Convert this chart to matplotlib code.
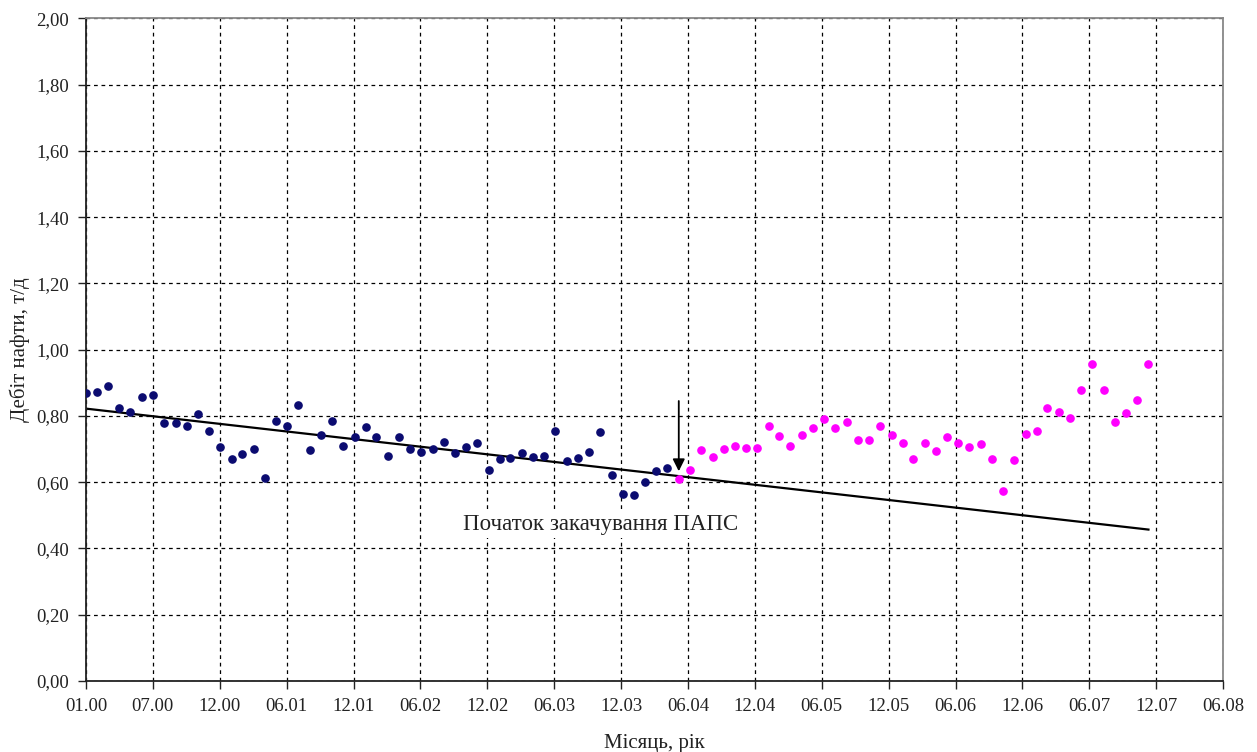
import numpy as np
import pandas as pd
import matplotlib
matplotlib.use('Agg')
import matplotlib.pyplot as plt

plt.rcParams['font.family'] = ['Liberation Serif', 'DejaVu Serif']

# Дебіт нафти до закачування (01.2000 - 05.2004)
debit_before = [0.868, 0.873, 0.890, 0.824, 0.813, 0.857, 0.863, 0.778, 0.780, 0.769,
                0.806, 0.753, 0.706, 0.669, 0.685, 0.700, 0.613, 0.784, 0.771, 0.833,
                0.697, 0.741, 0.785, 0.709, 0.735, 0.766, 0.735, 0.679, 0.735, 0.700,
                0.692, 0.701, 0.721, 0.688, 0.705, 0.719, 0.636, 0.671, 0.674, 0.689,
                0.677, 0.678, 0.753, 0.664, 0.673, 0.691, 0.750, 0.622, 0.563, 0.561,
                0.602, 0.634, 0.644]

# Дебіт нафти після початку закачування ПАПС (06.2004 - 12.2007)
debit_after = [0.611, 0.636, 0.697, 0.675, 0.700, 0.710, 0.703, 0.703, 0.770, 0.740,
               0.710, 0.741, 0.763, 0.791, 0.763, 0.782, 0.728, 0.728, 0.769, 0.742,
               0.718, 0.669, 0.717, 0.693, 0.736, 0.717, 0.707, 0.715, 0.671, 0.572,
               0.667, 0.746, 0.753, 0.824, 0.813, 0.795, 0.877, 0.958, 0.877, 0.783,
               0.808, 0.847, 0.958]

# Лінія тренду (значення на початку і в кінці періоду)
trend_values = [0.822, 0.457]

# Підписи осі X (крок 182 дні, як в Excel)
x_labels = ['01.00', '07.00', '12.00', '06.01', '12.01', '06.02', '12.02', '06.03', '12.03',
            '06.04', '12.04', '06.05', '12.05', '06.06', '12.06', '06.07', '12.07', '06.08']
tick_step_days = 182

start = pd.Timestamp('2000-01-01')
months = pd.date_range(start, periods=len(debit_before) + len(debit_after), freq='MS')
days = np.array((months - start).days)
days_before = days[:len(debit_before)]
days_after = days[len(debit_before):]

fig = plt.figure(figsize=(12.57, 7.52), dpi=100)
ax = fig.add_axes([0.0684, 0.0944, 0.9046, 0.8813])

ax.plot(days_before, debit_before, 'o', color='#0b0b70', markersize=5.2, zorder=3)
ax.plot(days_after, debit_after, 'o', color='#ff00ff', markersize=5.2, zorder=3)
ax.plot([days[0], days[-1]], trend_values, color='black', linewidth=1.6, zorder=2)

# Стрілка - початок закачування
arrow_x = days_after[0]
ax.annotate('', xy=(arrow_x, 0.633), xytext=(arrow_x, 0.845),
            arrowprops=dict(arrowstyle='-|>', color='black', lw=1.3,
                            mutation_scale=18, shrinkA=0, shrinkB=0), zorder=4)
ax.text(1400, 0.472, 'Початок закачування ПАПС', fontsize=16.5,
        ha='center', va='center', color='#222222', zorder=3,
        bbox=dict(facecolor='white', edgecolor='none', pad=2))

ax.set_xlim(0, tick_step_days * (len(x_labels) - 1))
ax.set_ylim(0, 2.0)
ax.set_xticks(np.arange(len(x_labels)) * tick_step_days)
ax.set_xticklabels(x_labels)
ax.set_yticks(np.arange(0, 2.01, 0.2))
ax.set_yticklabels([f'{v:.2f}'.replace('.', ',') for v in np.arange(0, 2.01, 0.2)])

ax.tick_params(axis='both', direction='out', length=6, width=1, labelsize=13.5,
               colors='#222222', pad=6)
ax.grid(True, color='black', linestyle=(0, (3, 3)), linewidth=0.9)
ax.set_axisbelow(True)

for side in ['left', 'bottom']:
    ax.spines[side].set_color('#222222')
    ax.spines[side].set_linewidth(1.3)
for side in ['top', 'right']:
    ax.spines[side].set_color('#888888')
    ax.spines[side].set_linewidth(1.3)

ax.set_xlabel('Місяць, рік', fontsize=15, color='#222222', labelpad=14)
ax.set_ylabel('Дебіт нафти, т/д', fontsize=15, color='#222222', labelpad=5)

fig.savefig('out.png', dpi=100)
